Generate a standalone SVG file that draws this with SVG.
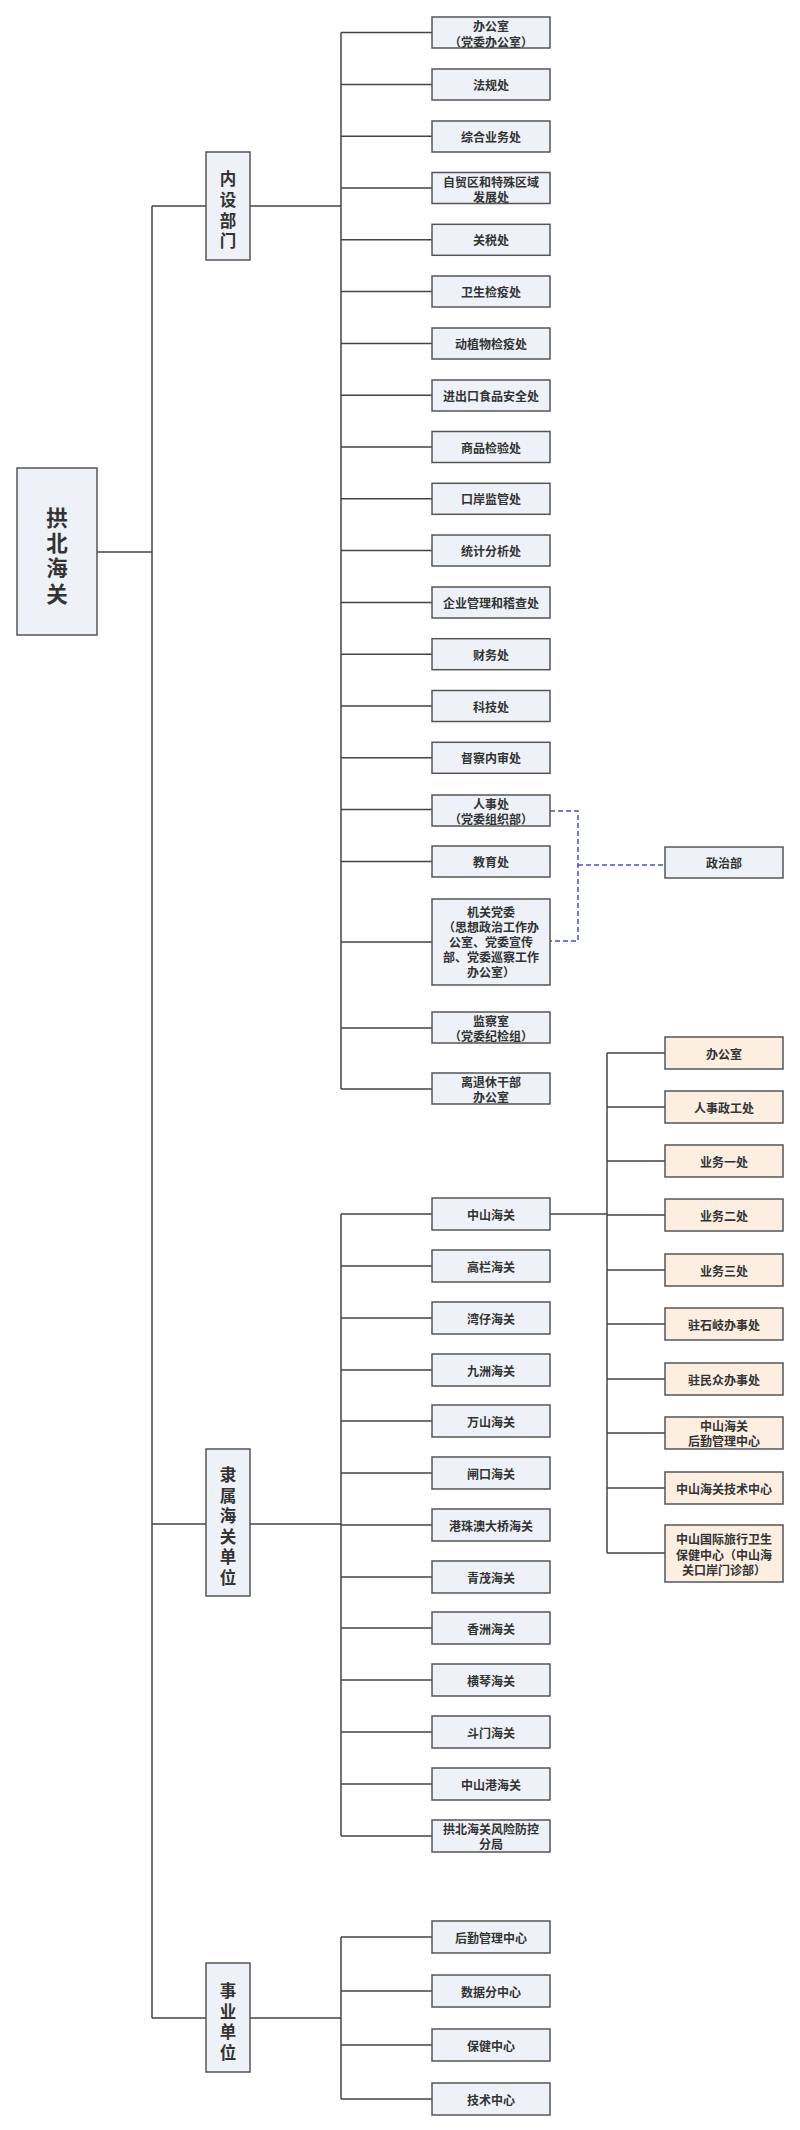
<svg xmlns="http://www.w3.org/2000/svg" width="800" height="2130" viewBox="0 0 800 2130">
<style>
.b{fill:#eef2f8;stroke:#555;stroke-width:1.5}
.o{fill:#fcefe2;stroke:#555;stroke-width:1.5}
.t{font-family:"Noto Sans CJK SC",sans-serif;font-size:12px;font-weight:bold;fill:#333;text-anchor:middle;dominant-baseline:central}
.v{font-family:"Noto Sans CJK SC",sans-serif;font-size:16.5px;font-weight:bold;fill:#333;text-anchor:middle;dominant-baseline:central}
.r{font-size:21.5px}
.c{fill:none;stroke:#444;stroke-width:1.5}
.d{fill:none;stroke:#4a4fd0;stroke-width:1.5;stroke-dasharray:5,3}
</style>
<rect width="800" height="2130" fill="#fff"/>
<g id="connectors">
<path class="c" d="M97 552H152M152 206V2018M152 206H206M152 1524H206M152 2018H206"/>
<path class="c" d="M250 206H341M341 32.6V1089M341 32.6H432M341 84.4H432M341 136.2H432M341 188H432M341 239.8H432M341 291.6H432M341 343.4H432M341 395.2H432M341 447H432M341 498.8H432M341 550.6H432M341 602.4H432M341 654.2H432M341 706H432M341 757.8H432M341 809.6H432M341 861.4H432M341 942H432M341 1028H432M341 1089H432"/>
<path class="c" d="M250 1524H341M341 1214V1836M341 1214H432M341 1266H432M341 1318H432M341 1370H432M341 1421H432M341 1473H432M341 1525H432M341 1577H432M341 1628H432M341 1680H432M341 1732H432M341 1784H432M341 1836H432"/>
<path class="c" d="M250 2018H341M341 1937V2099M341 1937H432M341 1991H432M341 2045H432M341 2099H432"/>
<path class="c" d="M550 1214H607M607 1053V1553M607 1053H665M607 1107H665M607 1161H665M607 1215H665M607 1270H665M607 1324H665M607 1379H665M607 1433H665M607 1488H665M607 1553H665"/>
<path class="d" d="M550 811H578V941H550M578 865H665"/>
</g>
<g id="root"><rect class="b" x="17" y="468" width="80" height="167"/>
<text class="v r" x="57"><tspan x="57" y="516">拱</tspan><tspan x="57" y="541">北</tspan><tspan x="57" y="566">海</tspan><tspan x="57" y="592">关</tspan></text></g>
<g id="n_nsbm"><rect class="b" x="206" y="152" width="44" height="108"/>
<text class="v"><tspan x="228" y="178">内</tspan><tspan x="228" y="199">设</tspan><tspan x="228" y="219.5">部</tspan><tspan x="228" y="240">门</tspan></text></g>
<g id="n_lshg"><rect class="b" x="206" y="1449" width="44" height="147"/>
<text class="v"><tspan x="228" y="1474">隶</tspan><tspan x="228" y="1494.6">属</tspan><tspan x="228" y="1515.2">海</tspan><tspan x="228" y="1535.8">关</tspan><tspan x="228" y="1556.4">单</tspan><tspan x="228" y="1577">位</tspan></text></g>
<g id="n_sydw"><rect class="b" x="206" y="1963" width="44" height="109"/>
<text class="v"><tspan x="228" y="1990">事</tspan><tspan x="228" y="2010.7">业</tspan><tspan x="228" y="2031.4">单</tspan><tspan x="228" y="2052">位</tspan></text></g>
<g id="a0"><rect class="b" x="432" y="17" width="118" height="31"/><text class="t"><tspan x="491" y="25">办公室</tspan><tspan x="491" y="41">（党委办公室）</tspan></text></g>
<g id="a1"><rect class="b" x="432" y="69" width="118" height="31"/><text class="t" x="491" y="84.4">法规处</text></g>
<g id="a2"><rect class="b" x="432" y="121" width="118" height="31"/><text class="t" x="491" y="136.2">综合业务处</text></g>
<g id="a3"><rect class="b" x="432" y="172.5" width="118" height="31"/><text class="t"><tspan x="491" y="181">自贸区和特殊区域</tspan><tspan x="491" y="196">发展处</tspan></text></g>
<g id="a4"><rect class="b" x="432" y="224.3" width="118" height="31"/><text class="t" x="491" y="239.8">关税处</text></g>
<g id="a5"><rect class="b" x="432" y="276" width="118" height="31"/><text class="t" x="491" y="291.6">卫生检疫处</text></g>
<g id="a6"><rect class="b" x="432" y="328" width="118" height="31"/><text class="t" x="491" y="343.4">动植物检疫处</text></g>
<g id="a7"><rect class="b" x="432" y="380" width="118" height="31"/><text class="t" x="491" y="395.2">进出口食品安全处</text></g>
<g id="a8"><rect class="b" x="432" y="431.5" width="118" height="31"/><text class="t" x="491" y="447">商品检验处</text></g>
<g id="a9"><rect class="b" x="432" y="483.3" width="118" height="31"/><text class="t" x="491" y="498.8">口岸监管处</text></g>
<g id="a10"><rect class="b" x="432" y="535" width="118" height="31"/><text class="t" x="491" y="550.6">统计分析处</text></g>
<g id="a11"><rect class="b" x="432" y="587" width="118" height="31"/><text class="t" x="491" y="602.4">企业管理和稽查处</text></g>
<g id="a12"><rect class="b" x="432" y="638.7" width="118" height="31"/><text class="t" x="491" y="654.2">财务处</text></g>
<g id="a13"><rect class="b" x="432" y="690.5" width="118" height="31"/><text class="t" x="491" y="706">科技处</text></g>
<g id="a14"><rect class="b" x="432" y="742.3" width="118" height="31"/><text class="t" x="491" y="757.8">督察内审处</text></g>
<g id="a15"><rect class="b" x="432" y="795" width="118" height="31"/><text class="t"><tspan x="491" y="803">人事处</tspan><tspan x="491" y="818">（党委组织部）</tspan></text></g>
<g id="a16"><rect class="b" x="432" y="846" width="118" height="31"/><text class="t" x="491" y="861.4">教育处</text></g>
<g id="a17"><rect class="b" x="432" y="899" width="118" height="86"/><text class="t"><tspan x="491" y="911">机关党委</tspan><tspan x="491" y="926">（思想政治工作办</tspan><tspan x="491" y="941">公室、党委宣传</tspan><tspan x="491" y="956">部、党委巡察工作</tspan><tspan x="491" y="971">办公室）</tspan></text></g>
<g id="a18"><rect class="b" x="432" y="1012" width="118" height="31"/><text class="t"><tspan x="491" y="1020">监察室</tspan><tspan x="491" y="1035">（党委纪检组）</tspan></text></g>
<g id="a19"><rect class="b" x="432" y="1073" width="118" height="31"/><text class="t"><tspan x="491" y="1081">离退休干部</tspan><tspan x="491" y="1096">办公室</tspan></text></g>
<g id="zzb"><rect class="b" x="665" y="847" width="118" height="31"/><text class="t" x="724" y="862.5">政治部</text></g>
<g id="b0"><rect class="b" x="432" y="1198" width="118" height="32"/><text class="t" x="491" y="1214">中山海关</text></g>
<g id="b1"><rect class="b" x="432" y="1250" width="118" height="32"/><text class="t" x="491" y="1266">高栏海关</text></g>
<g id="b2"><rect class="b" x="432" y="1302" width="118" height="32"/><text class="t" x="491" y="1318">湾仔海关</text></g>
<g id="b3"><rect class="b" x="432" y="1354" width="118" height="32"/><text class="t" x="491" y="1370">九洲海关</text></g>
<g id="b4"><rect class="b" x="432" y="1405" width="118" height="32"/><text class="t" x="491" y="1421">万山海关</text></g>
<g id="b5"><rect class="b" x="432" y="1457" width="118" height="32"/><text class="t" x="491" y="1473">闸口海关</text></g>
<g id="b6"><rect class="b" x="432" y="1509" width="118" height="32"/><text class="t" x="491" y="1525">港珠澳大桥海关</text></g>
<g id="b7"><rect class="b" x="432" y="1561" width="118" height="32"/><text class="t" x="491" y="1577">青茂海关</text></g>
<g id="b8"><rect class="b" x="432" y="1612" width="118" height="32"/><text class="t" x="491" y="1628">香洲海关</text></g>
<g id="b9"><rect class="b" x="432" y="1664" width="118" height="32"/><text class="t" x="491" y="1680">横琴海关</text></g>
<g id="b10"><rect class="b" x="432" y="1716" width="118" height="32"/><text class="t" x="491" y="1732">斗门海关</text></g>
<g id="b11"><rect class="b" x="432" y="1768" width="118" height="32"/><text class="t" x="491" y="1784">中山港海关</text></g>
<g id="b12"><rect class="b" x="432" y="1820" width="118" height="32"/><text class="t"><tspan x="491" y="1828">拱北海关风险防控</tspan><tspan x="491" y="1843">分局</tspan></text></g>
<g id="s0"><rect class="b" x="432" y="1921" width="118" height="32"/><text class="t" x="491" y="1937">后勤管理中心</text></g>
<g id="s1"><rect class="b" x="432" y="1975" width="118" height="32"/><text class="t" x="491" y="1991">数据分中心</text></g>
<g id="s2"><rect class="b" x="432" y="2029" width="118" height="32"/><text class="t" x="491" y="2045">保健中心</text></g>
<g id="s3"><rect class="b" x="432" y="2083" width="118" height="32"/><text class="t" x="491" y="2099">技术中心</text></g>
<g id="z0"><rect class="o" x="665" y="1037" width="118" height="32"/><text class="t" x="724" y="1053">办公室</text></g>
<g id="z1"><rect class="o" x="665" y="1091" width="118" height="32"/><text class="t" x="724" y="1107">人事政工处</text></g>
<g id="z2"><rect class="o" x="665" y="1145" width="118" height="32"/><text class="t" x="724" y="1161">业务一处</text></g>
<g id="z3"><rect class="o" x="665" y="1199" width="118" height="32"/><text class="t" x="724" y="1215">业务二处</text></g>
<g id="z4"><rect class="o" x="665" y="1254" width="118" height="32"/><text class="t" x="724" y="1270">业务三处</text></g>
<g id="z5"><rect class="o" x="665" y="1308" width="118" height="32"/><text class="t" x="724" y="1324">驻石岐办事处</text></g>
<g id="z6"><rect class="o" x="665" y="1363" width="118" height="32"/><text class="t" x="724" y="1379">驻民众办事处</text></g>
<g id="z7"><rect class="o" x="665" y="1417" width="118" height="32"/><text class="t"><tspan x="724" y="1425">中山海关</tspan><tspan x="724" y="1440">后勤管理中心</tspan></text></g>
<g id="z8"><rect class="o" x="665" y="1472" width="118" height="32"/><text class="t" x="724" y="1488">中山海关技术中心</text></g>
<g id="z9"><rect class="o" x="665" y="1525" width="118" height="57"/><text class="t"><tspan x="724" y="1538">中山国际旅行卫生</tspan><tspan x="724" y="1553.5">保健中心（中山海</tspan><tspan x="724" y="1569">关口岸门诊部）</tspan></text></g>
</svg>
